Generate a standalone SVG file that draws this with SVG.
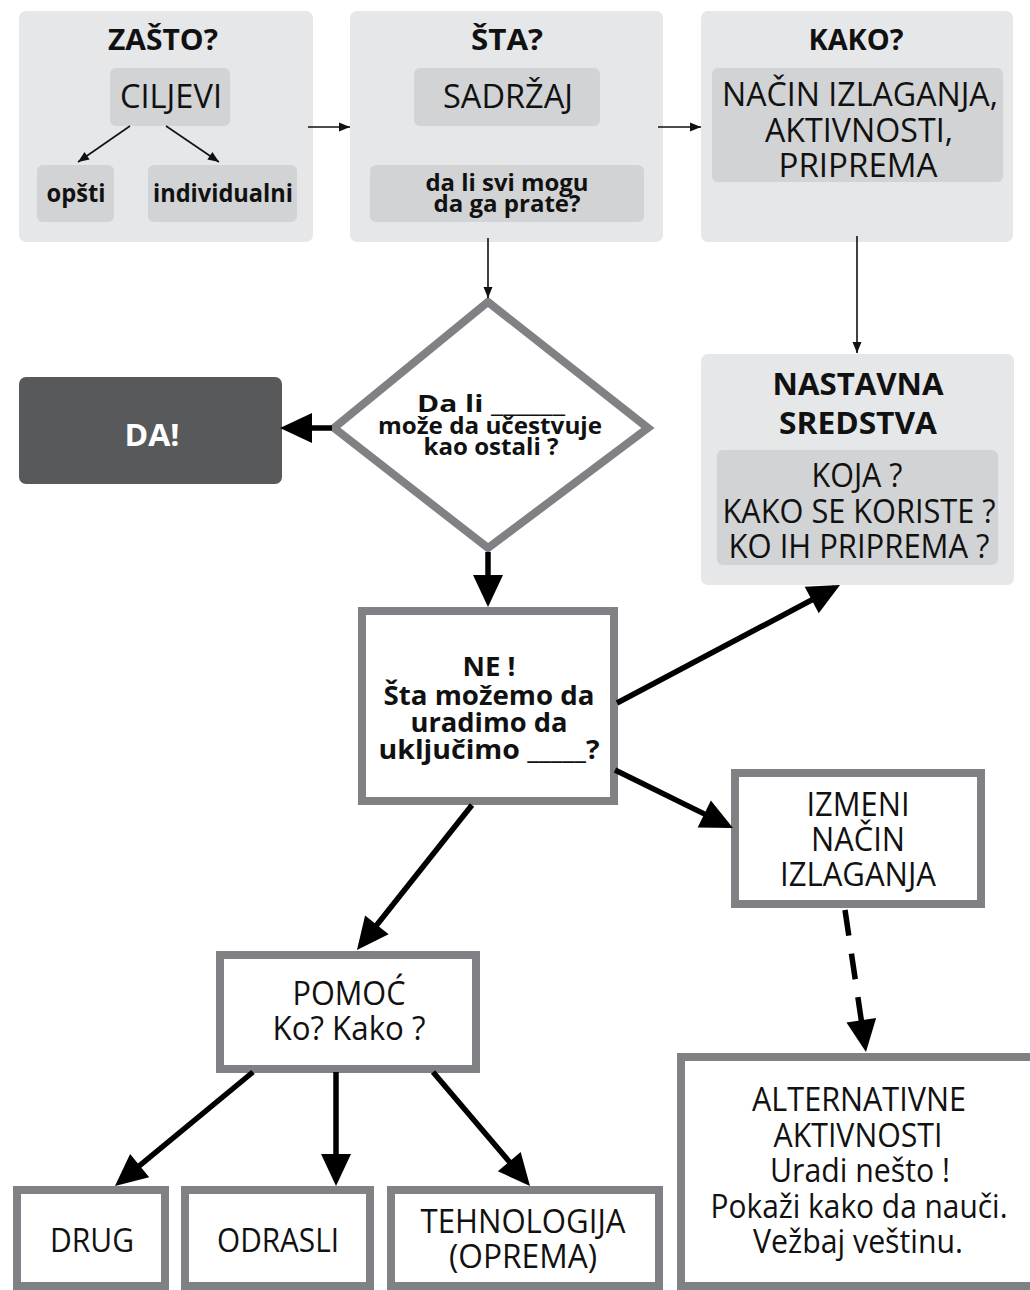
<svg xmlns="http://www.w3.org/2000/svg" width="1030" height="1290" viewBox="0 0 1030 1290">
<style>
.panel{fill:#e6e7e8}
.inner{fill:#d1d3d4}
.box{fill:#fff;stroke:#808184;stroke-width:8}
.t{font-family:"Liberation Sans Narrow","Open Sans","Noto Sans",sans-serif;fill:#111;text-anchor:middle}
.b{font-weight:bold}
.thin{stroke:#111;stroke-width:1.6;fill:none}
.thick{stroke:#000;stroke-width:5.5;fill:none}
.dash{stroke-dasharray:26 18}
</style>
<defs>
<marker id="sm" markerUnits="userSpaceOnUse" markerWidth="12" markerHeight="10" refX="11" refY="4.5" orient="auto" overflow="visible"><path d="M0,0 L11,4.5 L0,9 z" fill="#111"/></marker>
<marker id="big" markerUnits="userSpaceOnUse" markerWidth="34" markerHeight="32" refX="26" refY="15" orient="auto" overflow="visible"><path d="M0,0 L32,15 L0,30 z" fill="#000"/></marker>
</defs>

<g id="zasto">
<rect class="panel" x="19" y="11" width="294" height="231" rx="7"/>
<text class="t b" x="163" y="50" font-size="29" textLength="110" lengthAdjust="spacingAndGlyphs">ZAŠTO?</text>
<rect class="inner" x="110" y="68" width="120" height="58" rx="6"/>
<text class="t" x="171" y="108" font-size="33" textLength="102" lengthAdjust="spacingAndGlyphs">CILJEVI</text>
</g>
<g id="opsti">
<rect class="inner" x="37" y="165" width="77" height="57" rx="6"/>
<text class="t b" x="76" y="202" font-size="25" textLength="59" lengthAdjust="spacingAndGlyphs">opšti</text>
</g>
<g id="individualni">
<rect class="inner" x="148" y="165" width="149" height="57" rx="6"/>
<text class="t b" x="223" y="202" font-size="25" textLength="140" lengthAdjust="spacingAndGlyphs">individualni</text>
</g>

<g id="sta">
<rect class="panel" x="350" y="11" width="313" height="231" rx="7"/>
<text class="t b" x="507" y="50" font-size="29" textLength="72" lengthAdjust="spacingAndGlyphs">ŠTA?</text>
<rect class="inner" x="414" y="68" width="186" height="58" rx="6"/>
<text class="t" x="508" y="108" font-size="33" textLength="130" lengthAdjust="spacingAndGlyphs">SADRŽAJ</text>
<rect class="inner" x="370" y="165" width="274" height="57" rx="6"/>
<text class="t b" x="507" y="191" font-size="24" textLength="163" lengthAdjust="spacingAndGlyphs">da li svi mogu</text>
<text class="t b" x="507" y="212" font-size="24" textLength="147" lengthAdjust="spacingAndGlyphs">da ga prate?</text>
</g>

<g id="kako">
<rect class="panel" x="701" y="11" width="312" height="231" rx="7"/>
<text class="t b" x="856" y="50" font-size="29" textLength="95" lengthAdjust="spacingAndGlyphs">KAKO?</text>
<rect class="inner" x="712" y="68" width="291" height="114" rx="6"/>
<text class="t" x="860" y="106" font-size="33" textLength="276" lengthAdjust="spacingAndGlyphs">NAČIN IZLAGANJA,</text>
<text class="t" x="859" y="142" font-size="33" textLength="188" lengthAdjust="spacingAndGlyphs">AKTIVNOSTI,</text>
<text class="t" x="858" y="177" font-size="33" textLength="159" lengthAdjust="spacingAndGlyphs">PRIPREMA</text>
</g>

<g id="pitanje">
<polygon points="488,302 648,428 488,548 334,428" fill="#fff" stroke="#808184" stroke-width="8" stroke-linejoin="miter"/>
<text class="t b" x="491" y="412" font-size="24" textLength="148" lengthAdjust="spacingAndGlyphs">Da li ______</text>
<text class="t b" x="490" y="434" font-size="24" textLength="224" lengthAdjust="spacingAndGlyphs">može da učestvuje</text>
<text class="t b" x="491" y="455" font-size="24" textLength="135" lengthAdjust="spacingAndGlyphs">kao ostali ?</text>
</g>

<g id="da">
<rect x="19" y="377" width="263" height="107" rx="7" fill="#58595b"/>
<text class="t b" x="152" y="446" font-size="30" style="fill:#fff" textLength="55" lengthAdjust="spacingAndGlyphs">DA!</text>
</g>

<g id="nastavna">
<rect class="panel" x="701" y="354" width="313" height="231" rx="7"/>
<text class="t b" x="858" y="395" font-size="31" textLength="171" lengthAdjust="spacingAndGlyphs">NASTAVNA</text>
<text class="t b" x="858" y="434" font-size="31" textLength="158" lengthAdjust="spacingAndGlyphs">SREDSTVA</text>
<rect class="inner" x="717" y="450" width="281" height="115" rx="6"/>
<text class="t" x="857" y="487" font-size="32" textLength="91" lengthAdjust="spacingAndGlyphs">KOJA ?</text>
<text class="t" x="859" y="523" font-size="32" textLength="273" lengthAdjust="spacingAndGlyphs">KAKO SE KORISTE ?</text>
<text class="t" x="859" y="558" font-size="32" textLength="261" lengthAdjust="spacingAndGlyphs">KO IH PRIPREMA ?</text>
</g>

<g id="ne">
<rect class="box" x="362" y="611" width="252" height="190"/>
<text class="t b" x="489" y="676" font-size="27" textLength="53" lengthAdjust="spacingAndGlyphs">NE !</text>
<text class="t b" x="489" y="705" font-size="27" textLength="211" lengthAdjust="spacingAndGlyphs">Šta možemo da</text>
<text class="t b" x="489" y="732" font-size="27" textLength="157" lengthAdjust="spacingAndGlyphs">uradimo da</text>
<text class="t b" x="489" y="759" font-size="27" textLength="221" lengthAdjust="spacingAndGlyphs">uključimo _____?</text>
</g>

<g id="izmeni">
<rect class="box" x="735" y="773" width="246" height="131"/>
<text class="t" x="858" y="816" font-size="32" textLength="103" lengthAdjust="spacingAndGlyphs">IZMENI</text>
<text class="t" x="858" y="851" font-size="32" textLength="94" lengthAdjust="spacingAndGlyphs">NAČIN</text>
<text class="t" x="858" y="886" font-size="32" textLength="156" lengthAdjust="spacingAndGlyphs">IZLAGANJA</text>
</g>

<g id="alternativne">
<rect class="box" x="681" y="1057" width="400" height="229"/>
<text class="t" x="859" y="1111" font-size="32" textLength="214" lengthAdjust="spacingAndGlyphs">ALTERNATIVNE</text>
<text class="t" x="858" y="1147" font-size="32" textLength="169" lengthAdjust="spacingAndGlyphs">AKTIVNOSTI</text>
<text class="t" x="860" y="1182" font-size="32" textLength="180" lengthAdjust="spacingAndGlyphs">Uradi nešto !</text>
<text class="t" x="859" y="1218" font-size="32" textLength="297" lengthAdjust="spacingAndGlyphs">Pokaži kako da nauči.</text>
<text class="t" x="858" y="1253" font-size="32" textLength="210" lengthAdjust="spacingAndGlyphs">Vežbaj veštinu.</text>
</g>

<g id="pomoc">
<rect class="box" x="220" y="955" width="256" height="114"/>
<text class="t" x="349" y="1005" font-size="32" textLength="113" lengthAdjust="spacingAndGlyphs">POMOĆ</text>
<text class="t" x="349" y="1040" font-size="32" textLength="153" lengthAdjust="spacingAndGlyphs">Ko? Kako ?</text>
</g>

<g id="drug">
<rect class="box" x="17" y="1190" width="148" height="96"/>
<text class="t" x="92" y="1252" font-size="32" textLength="84" lengthAdjust="spacingAndGlyphs">DRUG</text>
</g>
<g id="odrasli">
<rect class="box" x="185" y="1190" width="185" height="96"/>
<text class="t" x="278" y="1252" font-size="32" textLength="122" lengthAdjust="spacingAndGlyphs">ODRASLI</text>
</g>
<g id="tehnologija">
<rect class="box" x="391" y="1190" width="268" height="96"/>
<text class="t" x="523" y="1233" font-size="32" textLength="205" lengthAdjust="spacingAndGlyphs">TEHNOLOGIJA</text>
<text class="t" x="523" y="1268" font-size="32" textLength="148" lengthAdjust="spacingAndGlyphs">(OPREMA)</text>
</g>

<g id="connectors">
<line class="thin" x1="130" y1="126" x2="78" y2="162" marker-end="url(#sm)"/>
<line class="thin" x1="166" y1="126" x2="219" y2="162" marker-end="url(#sm)"/>
<line class="thin" x1="308" y1="127" x2="350" y2="127" marker-end="url(#sm)"/>
<line class="thin" x1="658" y1="127" x2="701" y2="127" marker-end="url(#sm)"/>
<line class="thin" x1="488" y1="238" x2="488" y2="298" marker-end="url(#sm)"/>
<line class="thin" x1="857" y1="236" x2="857" y2="353" marker-end="url(#sm)"/>
<line class="thick" x1="332" y1="428" x2="286" y2="428" marker-end="url(#big)"/>
<line class="thick" x1="488" y1="552" x2="488" y2="601" marker-end="url(#big)"/>
<line class="thick" x1="617" y1="703" x2="834.7" y2="587.8" marker-end="url(#big)"/>
<line class="thick" x1="615" y1="770" x2="727.6" y2="825.4" marker-end="url(#big)"/>
<line class="thick dash" x1="845" y1="910" x2="865.1" y2="1046" marker-end="url(#big)"/>
<line class="thick" x1="472" y1="805" x2="360.7" y2="945.3" marker-end="url(#big)"/>
<line class="thick" x1="253" y1="1072" x2="119.6" y2="1182.2" marker-end="url(#big)"/>
<line class="thick" x1="336" y1="1072" x2="336" y2="1180" marker-end="url(#big)"/>
<line class="thick" x1="433" y1="1072" x2="526.1" y2="1181.4" marker-end="url(#big)"/>
</g>
</svg>
